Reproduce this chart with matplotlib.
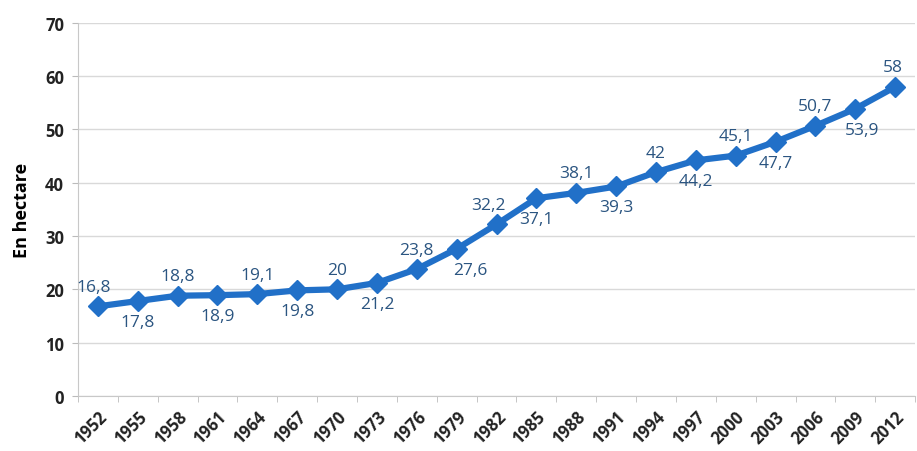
import numpy as np
import matplotlib.pyplot as plt

plt.rcParams['font.family'] = ['Open Sans', 'DejaVu Sans']

# donnees
annees = ['1952', '1955', '1958', '1961', '1964', '1967', '1970', '1973', '1976', '1979', '1982',
          '1985', '1988', '1991', '1994', '1997', '2000', '2003', '2006', '2009', '2012']
surface = [16.8, 17.8, 18.8, 18.9, 19.1, 19.8, 20, 21.2, 23.8, 27.6, 32.2,
           37.1, 38.1, 39.3, 42, 44.2, 45.1, 47.7, 50.7, 53.9, 58]

x = np.arange(len(annees))

fig = plt.figure(figsize=(9.17, 4.52), dpi=100)
ax = fig.add_axes([0.085, 0.122, 0.913, 0.825])

ax.plot(x, surface, color='#2170c8', lw=4.5, marker='D', ms=10.5,
        markeredgecolor='#2170c8', zorder=3)

# etiquettes alternees dessus / dessous
decal_x = {0: -3, 9: 10, 10: -6, 19: 5, 20: -2}
for i, v in enumerate(surface):
    txt = f"{v:g}".replace('.', ',')
    dy = 14 if i % 2 == 0 else -15
    ax.annotate(txt, (x[i], v), xytext=(decal_x.get(i, 0), dy), textcoords='offset points',
                ha='center', va='center', fontsize=12.5, color='#2b5581')

ax.set_xlim(-0.5, len(annees) - 0.5)
ax.set_ylim(0, 70)
ax.set_yticks(range(0, 71, 10))
ax.set_xticks(x)
ax.set_xticklabels(annees, rotation=45, ha='right', rotation_mode='anchor',
                   fontsize=12, fontweight='bold', color='#222222')
ax.set_xticks(np.arange(-0.5, len(annees), 1), minor=True)
ax.tick_params(axis='x', which='major', length=0, pad=8)
ax.tick_params(axis='x', which='minor', length=4, color='#bbbbbb')
ax.tick_params(axis='y', length=4, color='#bbbbbb', labelsize=12, pad=6)
for lab in ax.get_yticklabels():
    lab.set_fontweight('bold')
    lab.set_color('#222222')

ax.set_ylabel('En hectare', fontsize=13, fontweight='bold', labelpad=10)
ax.grid(axis='y', color='#d9d9d9', lw=1)
ax.set_axisbelow(True)
for s in ['top', 'right']:
    ax.spines[s].set_visible(False)
ax.spines['left'].set_color('#c8c8c8')
ax.spines['bottom'].set_color('#c8c8c8')

fig.savefig('out.png', dpi=100)
